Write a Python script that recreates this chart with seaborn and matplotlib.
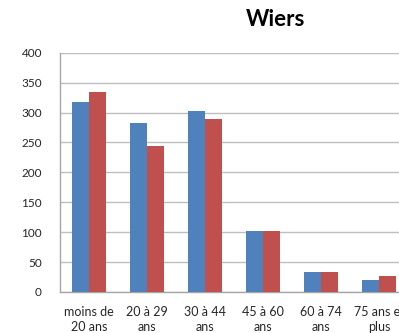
import pandas as pd
import seaborn as sns
import matplotlib.pyplot as plt

# données
categories = ['moins de\n20 ans', '20 à 29\nans', '30 à 44\nans', '45 à 60\nans', '60 à 74\nans', '75 ans et\nplus']
serie_1 = [317, 283, 302, 102, 34, 20]
serie_2 = [335, 244, 289, 102, 34, 27]
series = ['Série 1', 'Série 2']
y_ticks = [0, 50, 100, 150, 200, 250, 300, 350, 400]

df = pd.DataFrame({
    'tranche': categories * 2,
    'valeur': serie_1 + serie_2,
    'serie': [series[0]] * len(categories) + [series[1]] * len(categories),
})

sns.set_style('white')
plt.rcParams['font.family'] = ['Lato', 'DejaVu Sans']

fig = plt.figure(figsize=(3.99, 3.33), dpi=100)
# la zone de tracé dépasse à droite (image rognée)
ax = fig.add_axes([60 / 399, 41 / 333, 348 / 399, 239.3 / 333])

sns.barplot(data=df, x='tranche', y='valeur', hue='serie',
            palette=['#4F81BD', '#C0504D'], width=0.58, gap=0,
            saturation=1, linewidth=0, legend=False, ax=ax, zorder=3)

ax.set_ylim(0, 400)
ax.set_xlim(-0.5, len(categories) - 0.5)
ax.set_yticks(y_ticks)
ax.yaxis.grid(True, color='#BEBEBE', linewidth=1, zorder=0)
ax.set_axisbelow(True)
ax.set_xlabel('')
ax.set_ylabel('')

for s in ['top', 'right']:
    ax.spines[s].set_visible(False)
for s in ['left', 'bottom']:
    ax.spines[s].set_color('#A6A6A6')
    ax.spines[s].set_linewidth(1)

ax.tick_params(axis='y', length=4, color='#A6A6A6', pad=9, labelsize=8.5, labelcolor='#262626')
ax.tick_params(axis='x', length=0, pad=10, labelsize=9, labelcolor='#262626')
for lab in ax.get_xticklabels():
    lab.set_linespacing(1.3)

fig.text(275 / 399, 1 - 20 / 333, 'Wiers', ha='center', va='center',
         fontsize=16, fontweight='bold', color='black')

fig.savefig('out.png', dpi=100)
